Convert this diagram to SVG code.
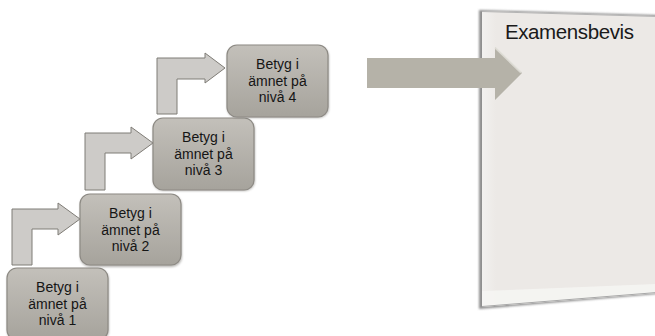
<svg xmlns="http://www.w3.org/2000/svg" width="655" height="336" viewBox="0 0 655 336">
  <defs>
    <linearGradient id="boxGrad" x1="0" y1="0" x2="0" y2="1">
      <stop offset="0" stop-color="#c3c0ba"/>
      <stop offset="1" stop-color="#a6a39c"/>
    </linearGradient>
    <linearGradient id="paperGrad" x1="0" y1="0" x2="1" y2="0">
      <stop offset="0" stop-color="#f2f1ef"/>
      <stop offset="0.08" stop-color="#ece9e6"/>
      <stop offset="1" stop-color="#ece9e6"/>
    </linearGradient>
    <filter id="soft" x="-10%" y="-10%" width="120%" height="120%">
      <feGaussianBlur stdDeviation="1.2"/>
    </filter>
    <filter id="paperBlur" x="-5%" y="-5%" width="110%" height="110%">
      <feGaussianBlur stdDeviation="0.8"/>
    </filter>
  </defs>
  <style>
    .box { fill: url(#boxGrad); stroke: #8d8a84; stroke-width: 1.2; }
    .shadow { fill: #7d7a74; opacity: 0.55; filter: url(#soft); }
    .lbl { font-family: "Liberation Sans", Arial, sans-serif; font-size: 14px; fill: #151515; text-anchor: middle; }
    .bent { fill: #cdcbc8; stroke: #7f7c76; stroke-width: 1; stroke-linejoin: miter; }
    .big { fill: #b5b2a8; }
    .title { font-family: "Liberation Sans", Arial, sans-serif; font-size: 20.5px; fill: #1a1a1a; letter-spacing: -0.4px; }
  </style>

  <!-- Document / certificate -->
  <g id="examensbevis">
    <polygon points="479,10 657,15 657,294 479,309" fill="#8f8f8f" filter="url(#paperBlur)"/>
    <polygon points="482,11 657,16 657,293 482,307" fill="url(#paperGrad)"/>
    <polygon points="482,291 657,284 657,293 482,307" fill="#f6f6f4" opacity="0.8"/>
    <line x1="482" y1="11.5" x2="657" y2="16.5" stroke="#b4b4b4" stroke-width="1"/>
    <line x1="482" y1="306.5" x2="657" y2="292.5" stroke="#a8a8a8" stroke-width="1"/>
    <text class="title" x="505" y="39">Examensbevis</text>
  </g>

  <!-- Connectors -->
  <g id="connectors">
    <polygon class="bent" points="12,265 12,209 58,209 58,203 80,219 58,235 58,229 32,229 32,265"/>
    <polygon class="bent" points="85,190 85,133 131,133 131,127 153,143 131,159 131,153 105,153 105,190"/>
    <polygon class="bent" points="157,114 157,58 205,58 205,53 225,68 205,83 205,79 177,79 177,114"/>
    <g id="big-arrow">
      <polygon class="big" points="367,58 495,58 495,47 522,73 495,100 495,88 367,88"/>
      <polyline points="495,47.5 521,72.5" fill="none" stroke="#e4e2dc" stroke-width="2" opacity="0.8"/>
    </g>
  </g>

  <!-- Nodes -->
  <g id="node-niva1">
    <rect class="shadow" x="7" y="269" width="102" height="72" rx="10"/>
    <rect class="box" x="7" y="268" width="101" height="72" rx="10"/>
    <text class="lbl" x="57.5" y="292">Betyg i</text>
    <text class="lbl" x="57.5" y="308.5">ämnet på</text>
    <text class="lbl" x="57.5" y="325">nivå 1</text>
  </g>
  <g id="node-niva2">
    <rect class="shadow" x="80" y="195" width="102" height="72" rx="10"/>
    <rect class="box" x="80" y="194" width="101" height="71" rx="10"/>
    <text class="lbl" x="130.5" y="218">Betyg i</text>
    <text class="lbl" x="130.5" y="234.5">ämnet på</text>
    <text class="lbl" x="130.5" y="251">nivå 2</text>
  </g>
  <g id="node-niva3">
    <rect class="shadow" x="153" y="119" width="102" height="72" rx="10"/>
    <rect class="box" x="153" y="118" width="101" height="72" rx="10"/>
    <text class="lbl" x="203.5" y="142">Betyg i</text>
    <text class="lbl" x="203.5" y="158.5">ämnet på</text>
    <text class="lbl" x="203.5" y="175">nivå 3</text>
  </g>
  <g id="node-niva4">
    <rect class="shadow" x="227" y="46" width="102" height="72" rx="10"/>
    <rect class="box" x="227" y="45" width="101" height="72" rx="10"/>
    <text class="lbl" x="277.5" y="69">Betyg i</text>
    <text class="lbl" x="277.5" y="85.5">ämnet på</text>
    <text class="lbl" x="277.5" y="102">nivå 4</text>
  </g>
</svg>
